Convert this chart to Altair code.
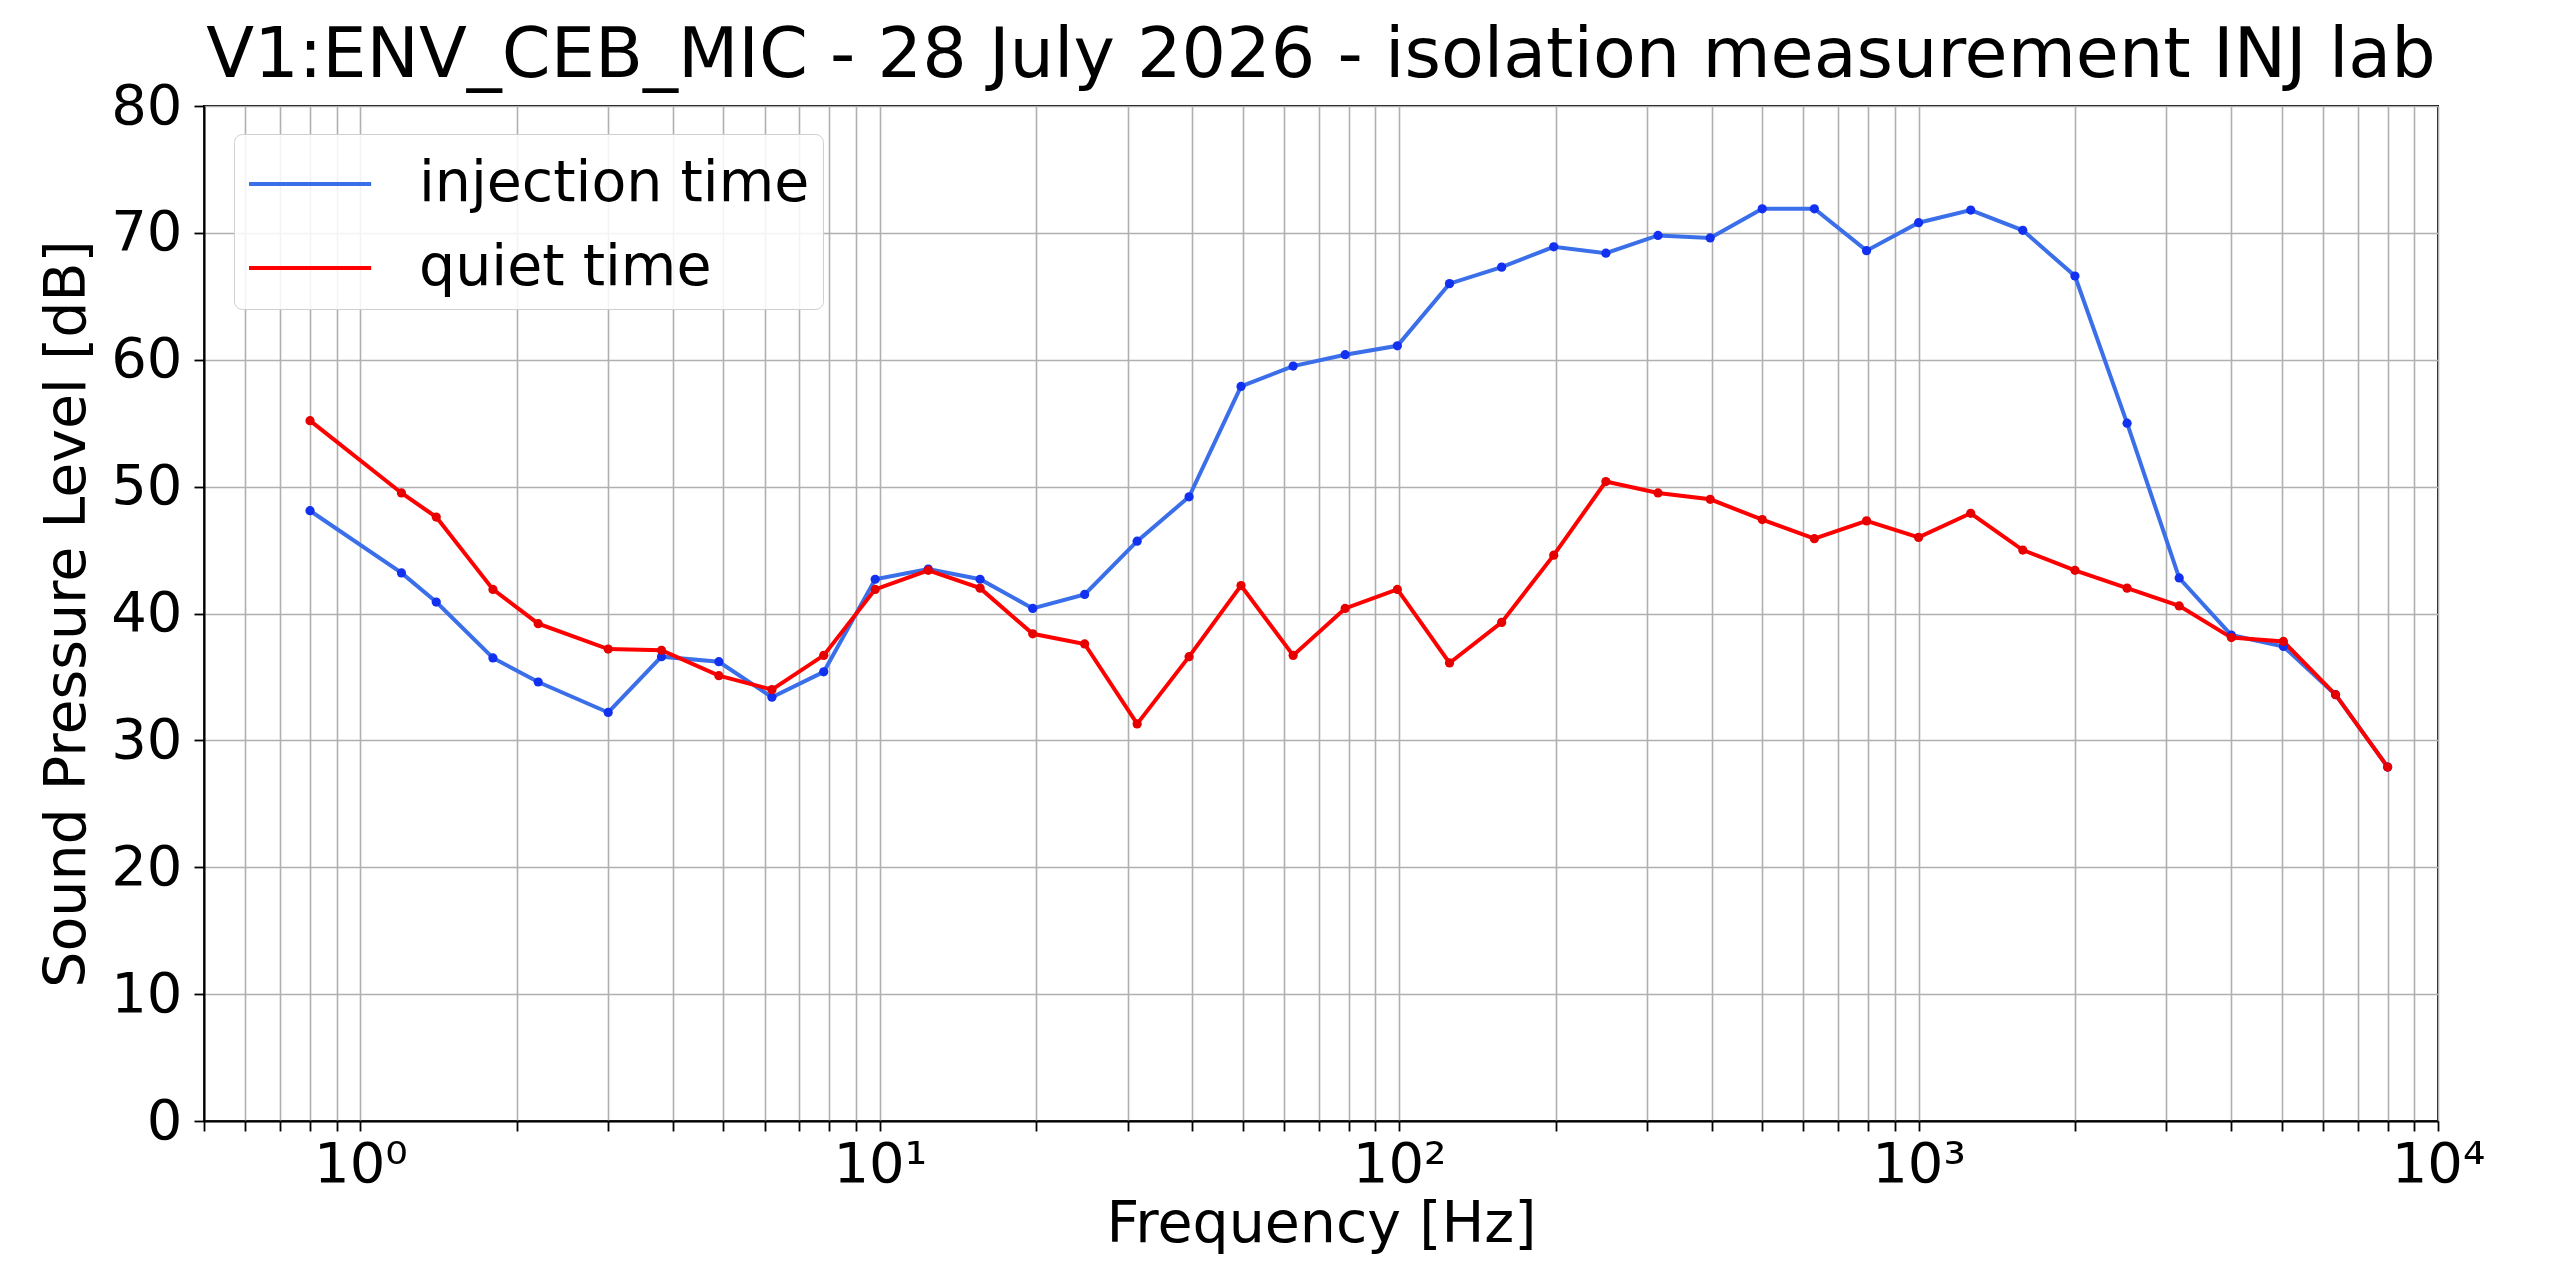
import altair as alt
import pandas as pd

freq = [0.8, 1.2, 1.4, 1.8, 2.2, 3.0, 3.8, 4.9, 6.2, 7.8, 9.8,
        12.4, 15.6, 19.7, 24.8, 31.3, 39.4, 49.6, 62.5, 78.7, 99.2,
        125, 157.5, 198.4, 250, 315, 397, 500, 630, 794, 1000,
        1260, 1587, 2000, 2520, 3175, 4000, 5040, 6350, 8000]
injection = [48.1, 43.2, 40.9, 36.5, 34.6, 32.2, 36.6, 36.2, 33.4, 35.4, 42.7,
             43.5, 42.7, 40.4, 41.5, 45.7, 49.2, 57.9, 59.5, 60.4, 61.1,
             66.0, 67.3, 68.9, 68.4, 69.8, 69.6, 71.9, 71.9, 68.6, 70.8,
             71.8, 70.2, 66.6, 55.0, 42.8, 38.3, 37.4, 33.6, 27.9]
quiet = [55.2, 49.5, 47.6, 41.9, 39.2, 37.2, 37.1, 35.1, 34.0, 36.7, 41.9,
         43.4, 42.0, 38.4, 37.6, 31.3, 36.6, 42.2, 36.7, 40.4, 41.9,
         36.1, 39.3, 44.6, 50.4, 49.5, 49.0, 47.4, 45.9, 47.3, 46.0,
         47.9, 45.0, 43.4, 42.0, 40.6, 38.1, 37.8, 33.6, 27.9]
series_names = ["injection time", "quiet time"]
line_colors = ["#3b6fe9", "#ff0000"]
point_colors = ["#1230f0", "#e60000"]

y_ticks = list(range(0, 81, 10))
x_ticks = [0.5, 0.6, 0.7, 0.8, 0.9]
for p in [1, 10, 100, 1000]:
    x_ticks += [m * p for m in range(1, 10)]
x_ticks.append(10000)

rows = []
for i, f in enumerate(freq):
    rows.append({"freq": f, "spl": injection[i], "series": series_names[0], "order": 0})
for i, f in enumerate(freq):
    rows.append({"freq": f, "spl": quiet[i], "series": series_names[1], "order": 1})
df = pd.DataFrame(rows)

FONT = "DejaVu Sans"

label_expr = (
    "abs(datum.value - pow(10, round(log(datum.value)/LN10))) < 1e-6 ? "
    "'10' + ['⁰','¹','²','³','⁴'][round(log(datum.value)/LN10)] : ''"
)

x_enc = alt.X(
    "freq:Q",
    scale=alt.Scale(type="log", domain=[0.5, 10000], nice=False),
    axis=alt.Axis(
        values=x_ticks, labelExpr=label_expr, title="Frequency [Hz]",
        labelFontSize=56, titleFontSize=57, labelPadding=6, titlePadding=4,
        tickSize=10, labelFlush=False, labelOverlap=False,
    ),
)
y_enc = alt.Y(
    "spl:Q",
    scale=alt.Scale(domain=[0, 80], nice=False),
    axis=alt.Axis(
        values=y_ticks, title="Sound Pressure Level [dB]",
        labelFontSize=56, titleFontSize=57, labelPadding=12, titlePadding=14,
        tickSize=10,
    ),
)

lines = alt.Chart(df).mark_line(strokeWidth=4).encode(
    x=x_enc,
    y=y_enc,
    color=alt.Color(
        "series:N",
        scale=alt.Scale(domain=series_names, range=line_colors),
        legend=alt.Legend(
            title=None, orient="none", legendX=30, legendY=28,
            symbolType="M-1,0H2.49", symbolSize=4900, symbolStrokeWidth=4,
            symbolFillColor="transparent",
            labelFontSize=57, labelFont=FONT, labelOffset=98, labelLimit=0,
            padding=13, rowPadding=19, cornerRadius=8,
            strokeColor="#d0d0d0", fillColor="rgba(255,255,255,0.85)",
        ),
    ),
    detail="series:N",
    order="order:Q",
)

points = alt.Chart(df).mark_circle(size=85, opacity=1).encode(
    x=x_enc,
    y=y_enc,
    color=alt.Color(
        "series:N",
        scale=alt.Scale(domain=series_names, range=point_colors),
        legend=None,
    ),
)

chart = (
    alt.layer(lines, points)
    .resolve_scale(color="independent")
    .properties(
        width=2234,
        height=1015,
        autosize=alt.AutoSizeParams(type="none"),
        padding={"left": 196, "top": 98, "right": 110, "bottom": 146},
        title=alt.TitleParams(
            "V1:ENV_CEB_MIC - 28 July 2026 - isolation measurement INJ lab",
            fontSize=70, font=FONT, fontWeight="normal", color="black",
            anchor="middle", offset=-14,
        ),
    )
    .configure_axis(
        labelFont=FONT, titleFont=FONT, labelColor="black", titleColor="black",
        titleFontWeight="normal", grid=True, gridColor="#b0b0b0", gridWidth=1.6,
        domainColor="black", domainWidth=2, tickColor="black", tickWidth=1.8,
    )
    .configure_view(stroke="black", strokeWidth=2)
)

chart.save("out.html", embed_options={"renderer": "svg", "actions": False})
